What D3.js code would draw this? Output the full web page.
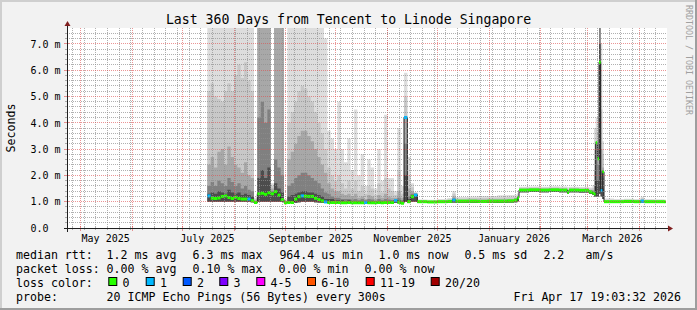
<!DOCTYPE html>
<html>
<head>
<meta charset="utf-8">
<script src="https://cdn.jsdelivr.net/npm/d3@7/dist/d3.min.js"></script>
<style>
  body { margin: 0; background: #fff; }
  svg text { font-family: "DejaVu Sans Mono", monospace; white-space: pre; }
</style>
</head>
<body>
<svg id="chart" width="697" height="310"></svg>
<script>
// ---- data ----
const TITLE = "Last 360 Days from Tencent to Linode Singapore";
const END_TIME = "2026-04-17T19:03:32Z";
const SPAN_DAYS = 360;
const DATA_START = "2025-07-16T00:00:00Z";
const DATA_END_DAY = 275;
const Y_MAX = 7.6; // ms

// days after DATA_START, one entry per sample (2 day steps while it is noisy)
const sampleDay = [
  0,2,4,6,8,10,12,14,16,18,20,22,24,26,28,30,32,34,36,38,40,42,44,46,48,50,52,54,56,58,60,
  62,64,66,68,70,72,74,76,78,80,82,84,86,88,90,92,94,96,98,100,102,104,106,108,110,112,114,116,118,120,122,124,
  126,132,138,144,147,149,156,162,168,174,180,184,186,187,193,199,205,211,216,217,223,229,231,
  232,233,234,235,236,237,238,244,250,256,260,262,268,274
];
const medianRtt = [
  1.22,1.13,1.12,1.14,1.20,1.22,1.16,1.12,1.17,1.12,1.10,1.10,1.10,1.04,0.97,
  1.30,1.32,1.28,1.34,1.30,1.38,1.25,1.08,0.96,
  0.97,0.97,1.10,1.19,1.22,1.21,1.20,1.20,1.13,1.08,1.03,0.99,
  0.97,0.97,0.97,0.97,0.96,0.96,0.97,0.96,0.96,0.96,0.96,0.97,0.96,0.96,0.96,0.97,0.96,0.97,0.97,0.97,1.04,0.98,0.94,4.20,1.00,1.19,1.25,
  1.00,0.99,1.00,1.01,1.06,1.02,1.02,1.01,1.02,1.02,1.03,1.06,1.15,1.44,1.45,1.44,1.45,1.44,1.35,1.44,1.43,1.37,1.33,
  1.29,3.24,2.63,6.30,1.42,2.14,1.00,1.00,1.01,1.00,1.02,1.00,1.00,1.00
];
const lossCount = [
  1,0,0,0,0,0,0,0,0,0,0,0,1,0,0,
  0,0,0,0,0,0,0,0,0,
  0,0,0,0,1,0,0,0,0,0,0,1,
  0,0,0,0,0,0,0,0,0,0,0,1,0,0,0,0,0,0,0,0,1,0,0,1,0,0,1,
  0,0,0,0,1,0,0,0,0,0,0,0,0,0,0,0,0,0,0,0,0,0,0,
  0,0,0,0,1,0,0,0,0,0,1,0,0,0
];
const rttMin = [
  1.00,1.00,1.00,1.00,1.00,1.00,1.00,1.00,1.00,1.00,1.00,1.00,1.00,0.98,0.95,
  1.00,1.00,1.00,1.00,1.00,1.00,1.00,1.00,0.94,
  0.95,0.95,0.96,0.98,1.00,1.00,1.00,1.00,0.98,0.97,0.96,0.95,
  0.94,0.94,0.94,0.94,0.94,0.94,0.94,0.94,0.94,0.94,0.94,0.94,0.94,0.94,0.94,0.94,0.94,0.94,0.94,0.94,0.96,0.94,0.92,1.00,0.96,1.00,1.00,
  0.96,0.95,0.96,0.96,0.97,0.96,0.96,0.96,0.96,0.96,0.97,0.98,1.02,1.36,1.37,1.36,1.37,1.36,1.30,1.36,1.35,1.30,1.26,
  1.20,1.20,1.20,1.30,1.20,1.10,0.96,0.96,0.96,0.96,0.97,0.96,0.96,0.96
];
const rttP60 = [
  1.3,1.35,1.3,1.4,1.35,1.3,1.45,1.35,1.3,1.35,1.25,1.3,1.25,1.2,1.0,
  1.9,2.2,1.9,2.3,1.35,1.7,1.5,1.35,0.98,
  1.2,1.25,1.3,1.35,1.4,1.4,1.35,1.35,1.3,1.25,1.2,1.1,
  1.1,1.1,1.05,1.05,1.05,1.0,1.05,1.0,1.0,1.0,1.0,1.0,1.0,1.0,1.0,1.0,1.0,1.02,1.0,1.0,1.06,1.05,1.0,2.0,1.1,1.25,1.28,
  1.00,0.99,1.00,1.01,1.08,1.02,1.02,1.02,1.02,1.02,1.03,1.06,1.15,1.44,1.45,1.44,1.45,1.44,1.35,1.44,1.43,1.37,1.34,
  1.30,1.80,1.80,7.00,1.50,1.50,1.00,1.00,1.01,1.00,1.03,1.00,1.00,1.00
];
const rttP70 = [
  1.6,1.75,1.6,1.8,1.7,1.6,1.9,1.75,1.6,1.7,1.5,1.6,1.45,1.4,1.02,
  4.2,4.8,4.0,4.5,1.4,2.6,2.3,2.0,1.0,
  1.6,1.7,1.9,2.0,2.1,2.1,2.0,1.9,1.8,1.7,1.5,1.35,
  1.3,1.2,1.15,1.15,1.1,1.1,1.1,1.08,1.1,1.05,1.1,1.05,1.1,1.08,1.04,1.1,1.05,1.1,1.08,1.06,1.1,1.15,1.05,3.2,1.2,1.3,1.3,
  1.01,1.00,1.01,1.02,1.12,1.04,1.04,1.04,1.05,1.05,1.06,1.08,1.18,1.46,1.47,1.46,1.47,1.46,1.38,1.46,1.45,1.40,1.38,
  1.60,2.60,2.40,8.00,2.20,1.90,1.02,1.01,1.02,1.01,1.05,1.01,1.01,1.01
];
const rttP80 = [
  2.4,2.7,2.3,2.9,3.0,2.4,3.1,2.7,2.4,2.3,2.1,2.5,2.0,1.9,1.05,
  8.5,8.5,8.5,8.5,1.5,8.5,8.5,8.5,1.03,
  2.6,2.9,3.2,3.5,3.7,3.7,3.5,3.3,3.0,2.7,2.4,2.1,
  1.7,1.5,1.4,1.4,1.3,1.25,1.3,1.2,1.3,1.15,1.2,1.1,1.25,1.2,1.1,1.25,1.15,1.3,1.2,1.15,1.15,1.4,1.15,4.2,1.5,1.4,1.32,
  1.02,1.01,1.02,1.04,1.20,1.07,1.08,1.08,1.09,1.09,1.10,1.12,1.22,1.49,1.50,1.49,1.50,1.49,1.42,1.49,1.48,1.44,1.44,
  2.20,3.30,3.00,8.50,3.00,2.30,1.04,1.03,1.04,1.03,1.08,1.03,1.03,1.02
];
const rttP90 = [
  5.2,5.5,5.0,4.9,4.8,5.2,5.5,5.2,5.8,6.2,5.7,6.3,5.6,5.2,1.1,
  8.5,8.5,8.5,8.5,1.6,8.5,8.5,8.5,1.06,
  4.0,4.4,4.8,5.2,5.4,5.3,5.0,4.8,4.4,4.0,3.6,3.0,
  2.3,2.0,1.8,2.0,1.7,1.5,1.8,1.5,1.8,1.4,1.6,1.3,1.6,1.5,1.25,1.7,1.35,1.9,1.5,1.4,1.25,2.2,1.3,5.0,2.0,1.55,1.34,
  1.04,1.03,1.05,1.08,1.30,1.12,1.14,1.14,1.15,1.16,1.17,1.18,1.28,1.53,1.54,1.53,1.54,1.53,1.48,1.53,1.52,1.49,1.52,
  3.00,3.80,3.60,8.50,4.50,2.80,1.07,1.06,1.07,1.06,1.13,1.06,1.05,1.04
];
const rttMax = [
  8.5,8.5,8.5,8.5,8.5,8.5,8.5,8.5,8.5,8.5,8.5,8.5,8.5,8.5,1.15,
  8.5,8.5,8.5,8.5,1.7,8.5,8.5,8.5,1.1,
  8.5,8.5,8.5,8.5,8.5,8.5,8.5,8.5,8.5,8.5,7.8,7.2,
  3.7,3.4,3.0,4.8,3.0,2.5,3.4,2.2,4.5,2.0,2.8,1.6,2.6,2.3,1.5,3.0,1.8,4.3,1.9,1.9,1.4,3.8,1.6,5.9,2.7,1.7,1.36,
  1.08,1.07,1.10,1.14,1.40,1.18,1.20,1.22,1.22,1.24,1.25,1.26,1.34,1.57,1.58,1.57,1.59,1.58,1.55,1.57,1.56,1.54,1.62,
  3.80,4.20,4.20,8.50,7.00,3.30,1.12,1.10,1.11,1.10,1.19,1.10,1.09,1.08
];

const lossLabels = ["0", "1", "2", "3", "4-5", "6-10", "11-19", "20/20"];
const lossColors = ["#26ff00", "#00b8ff", "#0059ff", "#7e00ff", "#ff00ff", "#ff5500", "#ff0000", "#a10000"];
const lossUpper = [0, 1, 2, 3, 5, 10, 19, 20];

const rttLegend = ["median rtt:", "1.2 ms avg", "6.3 ms max", "964.4 us min", "1.0 ms now", "0.5 ms sd", "2.2", "am/s"];
const lossLegend = ["packet loss:", "0.00 % avg", "0.10 % max", "0.00 % min", "0.00 % now"];
const probeLegend = ["probe:", "20 ICMP Echo Pings (56 Bytes) every 300s"];
const STAMP = "Fri Apr 17 19:03:32 2026";
const WATERMARK = "RRDTOOL / TOBI OETIKER";

// ---- layout ----
const W = 697, H = 310;
const P = {left: 67, right: 667, top: 28, bottom: 228};
const rttLegendX = [16, 106.6, 192.6, 279.4, 378.6, 464.4, 543.4, 585.6];
const lossLegendX = [16, 106.6, 192.6, 278.6, 364.6];
const swatchX = [108.3, 145.7, 182.7, 219.3, 256.3, 307, 365.7, 430.7];

const svg = d3.select("#chart");

const endTime = new Date(END_TIME);
const startTime = d3.utcDay.offset(endTime, -SPAN_DAYS);
const dataStart = new Date(DATA_START);

const x = d3.scaleUtc().domain([startTime, endTime]).range([P.left, P.right]);
const y = d3.scaleLinear().domain([0, Y_MAX]).range([P.bottom, P.top]);

let rows = sampleDay.map((d, i) => ({
    t: d3.utcDay.offset(dataStart, d),
    median: medianRtt[i],
    loss: lossCount[i],
    min: rttMin[i],
    p60: rttP60[i], p70: rttP70[i], p80: rttP80[i], p90: rttP90[i], max: rttMax[i]
}));
// close the last step at the end of the data
rows.push(Object.assign({}, rows[rows.length - 1], {t: d3.utcDay.offset(dataStart, DATA_END_DAY)}));

// background + 3d border
svg.append("rect").attr("width", W).attr("height", H).attr("fill", "#f2f2f2");
svg.append("rect").attr("x", 0).attr("y", 0).attr("width", W).attr("height", 2).attr("fill", "#cfcfcf");
svg.append("rect").attr("x", 0).attr("y", 0).attr("width", 2).attr("height", H).attr("fill", "#cfcfcf");
svg.append("rect").attr("x", 0).attr("y", H - 2).attr("width", W).attr("height", 2).attr("fill", "#9e9e9e");
svg.append("rect").attr("x", W - 2).attr("y", 0).attr("width", 2).attr("height", H).attr("fill", "#9e9e9e");

// canvas
svg.append("rect")
    .attr("x", P.left).attr("y", P.top)
    .attr("width", P.right - P.left).attr("height", P.bottom - P.top)
    .attr("fill", "#ffffff");

svg.append("clipPath").attr("id", "plot-clip")
  .append("rect")
    .attr("x", P.left).attr("y", P.top)
    .attr("width", P.right - P.left).attr("height", P.bottom - P.top);

let plot = svg.append("g").attr("clip-path", "url(#plot-clip)");

// smoke, outer band first
const bands = [
    {key: "max", color: "#dddddd"},
    {key: "p90", color: "#c8c8c8"},
    {key: "p80", color: "#a8a8a8"},
    {key: "p70", color: "#808080"},
    {key: "p60", color: "#4c4c4c"}
];
bands.forEach(b => {
    let area = d3.area()
        .x(d => x(d.t))
        .y0(d => y(d.min))
        .y1(d => y(d[b.key]))
        .curve(d3.curveStepAfter);
    plot.append("path")
        .datum(rows)
        .attr("fill", b.color)
        .attr("d", area);
});

// thin dark median under the loss coloured one
plot.append("path")
    .datum(rows)
    .attr("fill", "none")
    .attr("stroke", "#202020")
    .attr("stroke-width", 1)
    .attr("d", d3.line().x(d => x(d.t)).y(d => y(d.median)).curve(d3.curveStepAfter));

const lossColor = n => lossColors[lossUpper.findIndex(u => n <= u)];
plot.selectAll("line.median-seg")
    .data(rows.slice(0, -1))
    .join("line")
    .attr("class", "median-seg")
    .attr("x1", d => x(d.t))
    .attr("x2", (d, i) => x(rows[i + 1].t))
    .attr("y1", d => y(d.median))
    .attr("y2", d => y(d.median))
    .attr("stroke", d => lossColor(d.loss))
    .attr("stroke-width", 3);

// grid (drawn over the data like rrdtool)
const snap = v => Math.floor(v) + 0.5;
const gridG = svg.append("g").attr("shape-rendering", "crispEdges");
const MINOR = "rgba(143,143,143,0.7)", MAJOR = "rgba(222,79,79,0.6)";

let weeks = d3.utcDay.range(startTime, endTime).filter(d => d.getUTCDay() === 6);
let months = d3.utcMonth.range(startTime, endTime);
let yMinor = d3.range(1, Math.floor(Y_MAX / 0.2) + 1).map(i => +(i * 0.2).toFixed(1)).filter(v => v % 1 !== 0);
let yMajor = d3.range(1, Math.floor(Y_MAX) + 1);

function vlines(cls, data, color, y1, y2, dash){
    gridG.selectAll("line." + cls).data(data).join("line")
        .attr("class", cls)
        .attr("x1", d => snap(x(d))).attr("x2", d => snap(x(d)))
        .attr("y1", y1).attr("y2", y2)
        .attr("stroke", color)
        .attr("stroke-dasharray", dash);
}
function hlines(cls, data, color, x1, x2, dash){
    gridG.selectAll("line." + cls).data(data).join("line")
        .attr("class", cls)
        .attr("x1", x1).attr("x2", x2)
        .attr("y1", d => snap(y(d))).attr("y2", d => snap(y(d)))
        .attr("stroke", color)
        .attr("stroke-dasharray", dash);
}
vlines("vminor", weeks, MINOR, P.top, P.bottom, "1,1");
vlines("vmajor", months, MAJOR, P.top, P.bottom, "1,1");
hlines("hminor", yMinor, MINOR, P.left, P.right, "1,1");
hlines("hmajor", yMajor, MAJOR, P.left, P.right, "1,1");
// little ticks on the axes
vlines("xtick", weeks, MINOR, P.bottom - 1, P.bottom + 2, null);
vlines("xtick-major", months, MAJOR, P.bottom - 2, P.bottom + 3, null);
hlines("ytick", yMinor, MINOR, P.left - 2, P.left + 1, null);
hlines("ytick-major", yMajor, MAJOR, P.left - 3, P.left + 2, null);

// axes + arrows
const AXIS = "#1f1f1f", ARROW = "#801f1f";
svg.append("line").attr("x1", P.left - 3).attr("x2", P.right + 1)
    .attr("y1", P.bottom + 0.5).attr("y2", P.bottom + 0.5).attr("stroke", AXIS);
svg.append("line").attr("x1", P.left + 0.5).attr("x2", P.left + 0.5)
    .attr("y1", P.bottom + 4).attr("y2", P.top - 2).attr("stroke", AXIS);
svg.append("path").attr("fill", ARROW)
    .attr("d", `M${P.right + 1},${P.bottom - 2.5}L${P.right + 6},${P.bottom + 0.5}L${P.right + 1},${P.bottom + 3.5}Z`);
svg.append("path").attr("fill", ARROW)
    .attr("d", `M${P.left - 2.5},${P.top - 2}L${P.left + 0.5},${P.top - 7}L${P.left + 3.5},${P.top - 2}Z`);

// axis labels
const yFmt = d => d === 0 ? "0.0  " : d3.format(".1f")(d) + " m";
svg.append("g").selectAll("text").data([0].concat(yMajor)).join("text")
    .attr("x", 60.5).attr("y", d => y(d) + 3.8)
    .attr("text-anchor", "end").attr("font-size", "10px")
    .attr("xml:space", "preserve")
    .text(yFmt);

let labelMonths = months.filter(m => m.getUTCMonth() % 2 === 0);
svg.append("g").selectAll("text").data(labelMonths).join("text")
    .attr("x", d => x(d3.utcDay.offset(d, 15)))
    .attr("y", 241.6)
    .attr("text-anchor", "middle").attr("font-size", "10px")
    .text(d3.utcFormat("%B %Y"));

svg.append("text")
    .attr("transform", `translate(14.5,${(P.top + P.bottom) / 2}) rotate(-90)`)
    .attr("text-anchor", "middle").attr("font-size", "11.6px")
    .text("Seconds");

svg.append("text")
    .attr("x", W / 2).attr("y", 24)
    .attr("text-anchor", "middle").attr("font-size", "13.2px")
    .text(TITLE);

svg.append("text")
    .attr("transform", "translate(685.5,5) rotate(90)")
    .attr("font-size", "8.3px").attr("fill", "#a0a0a0")
    .text(WATERMARK);

// legend
const LEG = 11.6;
let legend = svg.append("g").attr("font-size", LEG + "px");
legend.selectAll("text.r1").data(rttLegend).join("text")
    .attr("class", "r1")
    .attr("x", (d, i) => rttLegendX[i]).attr("y", 258.5).text(d => d);
legend.selectAll("text.r2").data(lossLegend).join("text")
    .attr("class", "r2")
    .attr("x", (d, i) => lossLegendX[i]).attr("y", 272.5).text(d => d);
legend.append("text").attr("x", 16).attr("y", 286.5).text("loss color:");
legend.selectAll("rect.sw").data(lossColors).join("rect")
    .attr("class", "sw")
    .attr("x", (d, i) => swatchX[i] + 0.5).attr("y", 277.5)
    .attr("width", 8).attr("height", 8)
    .attr("fill", d => d).attr("stroke", "#000").attr("stroke-width", 1);
legend.selectAll("text.sl").data(lossLabels).join("text")
    .attr("class", "sl")
    .attr("x", (d, i) => swatchX[i] + 14.3).attr("y", 286.5).text(d => d);
legend.append("text").attr("x", 16).attr("y", 300.5).text(probeLegend[0]);
legend.append("text").attr("x", 106.6).attr("y", 300.5).text(probeLegend[1]);
legend.append("text").attr("x", 681).attr("y", 300.5).attr("text-anchor", "end").text(STAMP);
</script>
</body>
</html>
